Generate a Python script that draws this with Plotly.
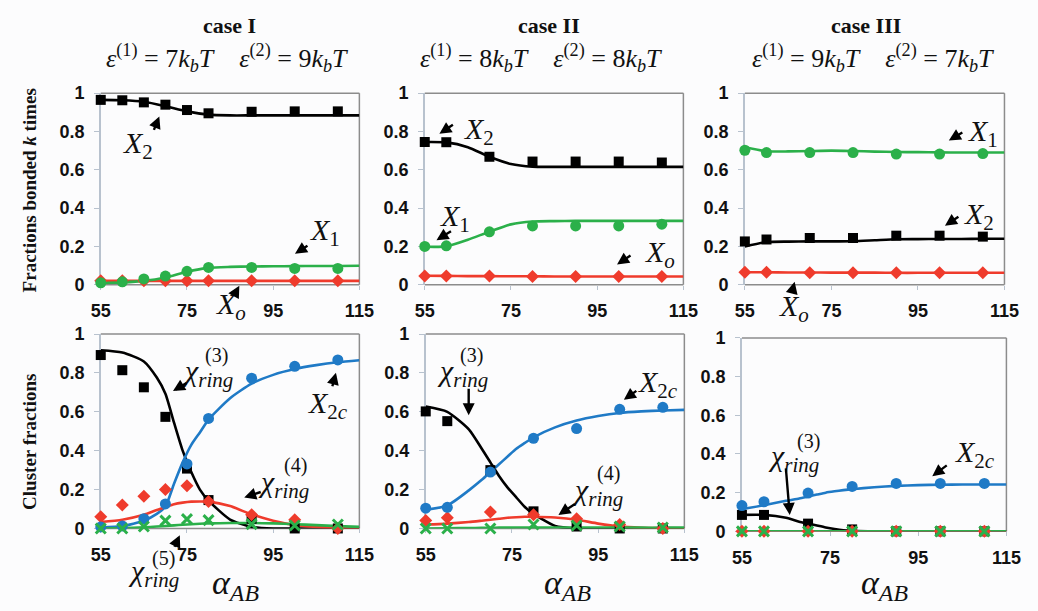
import plotly.graph_objects as go

W, H = 1038, 611

# ---------------- data ----------------
x_sim9 = [55, 60, 65, 70, 75, 80, 90, 100, 110]
x_sim7 = [55, 60, 70, 80, 90, 100, 110]
x_th_top = [55, 60, 65, 70, 75, 80, 85, 90, 95, 100, 105, 110, 115]
x_th_bot = [55, 60, 65, 68, 70, 72, 74, 76, 78, 80, 85, 90, 95, 100, 105, 110, 115]

# Case I (top): fractions bonded k times
c1_X2_sim = [0.965, 0.963, 0.952, 0.94, 0.912, 0.895, 0.903, 0.905, 0.905]
c1_X1_sim = [0.01, 0.015, 0.03, 0.045, 0.07, 0.09, 0.09, 0.085, 0.085]
c1_Xo_sim = [0.02, 0.02, 0.02, 0.02, 0.02, 0.02, 0.02, 0.02, 0.02]
c1_X2_th = [0.965, 0.963, 0.955, 0.932, 0.905, 0.888, 0.884, 0.884, 0.884, 0.884, 0.884, 0.884, 0.884]
c1_X1_th = [0.008, 0.012, 0.02, 0.038, 0.068, 0.088, 0.093, 0.095, 0.096, 0.097, 0.098, 0.098, 0.099]
c1_Xo_th = [0.02, 0.02, 0.02, 0.02, 0.02, 0.02, 0.02, 0.02, 0.02, 0.02, 0.02, 0.02, 0.02]

# Case II (top)
c2_X2_sim = [0.745, 0.744, 0.668, 0.643, 0.643, 0.643, 0.638]
c2_X1_sim = [0.2, 0.203, 0.276, 0.307, 0.307, 0.307, 0.316]
c2_Xo_sim = [0.045, 0.045, 0.045, 0.043, 0.043, 0.043, 0.043]
c2_X2_th = [0.745, 0.743, 0.718, 0.668, 0.63, 0.616, 0.615, 0.615, 0.615, 0.615, 0.615, 0.615, 0.615]
c2_X1_th = [0.198, 0.2, 0.235, 0.277, 0.315, 0.33, 0.332, 0.333, 0.333, 0.333, 0.333, 0.333, 0.333]
c2_Xo_th = [0.047, 0.046, 0.045, 0.045, 0.044, 0.044, 0.043, 0.043, 0.043, 0.043, 0.043, 0.043, 0.043]

# Case III (top)
c3_X1_sim = [0.702, 0.69, 0.69, 0.69, 0.682, 0.682, 0.685]
c3_X2_sim = [0.226, 0.236, 0.244, 0.244, 0.256, 0.256, 0.251]
c3_Xo_sim = [0.065, 0.065, 0.063, 0.063, 0.062, 0.062, 0.062]
c3_X1_th = [0.718, 0.697, 0.696, 0.698, 0.7, 0.698, 0.695, 0.693, 0.692, 0.691, 0.69, 0.69, 0.69]
c3_X2_th = [0.2, 0.222, 0.225, 0.226, 0.226, 0.227, 0.232, 0.237, 0.238, 0.239, 0.239, 0.24, 0.24]
c3_Xo_th = [0.065, 0.065, 0.064, 0.064, 0.063, 0.063, 0.063, 0.062, 0.062, 0.062, 0.062, 0.062, 0.062]

# Case I (bottom): cluster fractions
c1_ch3_sim = [0.892, 0.814, 0.726, 0.574, 0.308, 0.146, 0.05, 0.0, 0.0]
c1_X2c_sim = [0.008, 0.013, 0.05, 0.126, 0.332, 0.566, 0.773, 0.834, 0.867]
c1_ch4_sim = [0.06, 0.121, 0.166, 0.2, 0.22, 0.138, 0.071, 0.045, 0.0]
c1_ch5_sim = [0.0, 0.0, 0.01, 0.04, 0.048, 0.043, 0.022, 0.015, 0.02]
c1_ch3_th = [0.917, 0.905, 0.859, 0.776, 0.693, 0.544, 0.40, 0.29, 0.2, 0.143, 0.046, 0.008, 0.0, 0.0, 0.0, 0.0, 0.0]
c1_X2c_th = [0.005, 0.012, 0.04, 0.075, 0.113, 0.23, 0.34, 0.43, 0.494, 0.56, 0.67, 0.745, 0.79, 0.82, 0.84, 0.855, 0.865]
c1_ch4_th = [0.033, 0.045, 0.07, 0.095, 0.11, 0.125, 0.133, 0.138, 0.139, 0.138, 0.115, 0.072, 0.04, 0.018, 0.008, 0.003, 0.002]
c1_ch5_th = [0.0, 0.002, 0.006, 0.01, 0.013, 0.016, 0.019, 0.022, 0.024, 0.026, 0.028, 0.028, 0.026, 0.022, 0.017, 0.012, 0.008]

# Case II (bottom)
c2_ch3_sim = [0.602, 0.552, 0.3, 0.088, 0.01, 0.0, 0.0]
c2_X2c_sim = [0.104, 0.109, 0.29, 0.464, 0.514, 0.613, 0.623]
c2_ch4_sim = [0.041, 0.055, 0.085, 0.07, 0.05, 0.02, 0.0]
c2_ch5_sim = [0.0, 0.0, 0.0, 0.02, 0.015, 0.01, 0.005]
c2_ch3_th = [0.627, 0.6, 0.51, 0.41, 0.34, 0.27, 0.21, 0.16, 0.11, 0.075, 0.013, 0.0, 0.0, 0.0, 0.0, 0.0, 0.0]
c2_X2c_th = [0.096, 0.118, 0.196, 0.25, 0.29, 0.33, 0.37, 0.41, 0.44, 0.469, 0.52, 0.555, 0.578, 0.594, 0.602, 0.607, 0.61]
c2_ch4_th = [0.02, 0.025, 0.033, 0.04, 0.045, 0.05, 0.055, 0.058, 0.06, 0.06, 0.056, 0.045, 0.025, 0.01, 0.004, 0.002, 0.001]
c2_ch5_th = [0.0, 0.001, 0.002, 0.003, 0.003, 0.004, 0.004, 0.005, 0.005, 0.005, 0.005, 0.005, 0.005, 0.005, 0.004, 0.004, 0.004]

# Case III (bottom)
c3_ch3_sim = [0.085, 0.085, 0.04, 0.01, 0.0, 0.0, 0.0]
c3_X2c_sim = [0.133, 0.153, 0.198, 0.232, 0.248, 0.248, 0.248]
c3_ch4_sim = [0.0, 0.0, 0.0, 0.0, 0.0, 0.0, 0.0]
c3_ch5_sim = [0.0, 0.0, 0.0, 0.0, 0.0, 0.0, 0.0]
c3_ch3_th = [0.085, 0.085, 0.07, 0.05, 0.04, 0.03, 0.02, 0.012, 0.006, 0.003, 0.0, 0.0, 0.0, 0.0, 0.0, 0.0, 0.0]
c3_X2c_th = [0.115, 0.135, 0.158, 0.17, 0.18, 0.19, 0.2, 0.207, 0.213, 0.218, 0.228, 0.235, 0.239, 0.241, 0.242, 0.242, 0.242]
c3_ch4_th = [0.0] * 17
c3_ch5_th = [0.0] * 17

x_ticks = [55, 75, 95, 115]
y_ticks = [0, 0.2, 0.4, 0.6, 0.8, 1]
y_tick_text = ["0", "0.2", "0.4", "0.6", "0.8", "1"]

case_titles = ["case I", "case II", "case III"]
eps_vals = [(7, 9), (8, 8), (9, 7)]

# ---------------- styles ----------------
BLACK = "#000000"
GREEN = "#2bb04a"
RED = "#ef3b2c"
BLUE = "#1f7ac6"
SERIF = "Liberation Serif"
SANS = "Liberation Sans"
BG = "#fcfcfd"

# panel boxes in pixels: (left, right, top, bottom)
boxes = [
    (93, 358, 86, 284), (425, 690, 86, 284), (753, 1019, 86, 284),
    (93, 358, 335, 536), (426, 691, 335, 536), (750, 1021, 339, 539),
]

fig = go.Figure()


def ax_id(i):
    return ("x" if i == 0 else f"x{i+1}", "y" if i == 0 else f"y{i+1}")


def add_line(i, x, y, color):
    xa, ya = ax_id(i)
    fig.add_trace(go.Scatter(x=x, y=y, mode="lines", xaxis=xa, yaxis=ya,
                             line=dict(color=color, width=2.6, shape="spline", smoothing=0.6),
                             cliponaxis=False, showlegend=False, hoverinfo="skip"))


def add_pts(i, x, y, color, symbol, size=10):
    xa, ya = ax_id(i)
    mk = dict(color=color, symbol=symbol, size=size)
    if symbol == "x-thin":
        mk["line"] = dict(color=color, width=3)
    fig.add_trace(go.Scatter(x=x, y=y, mode="markers", xaxis=xa, yaxis=ya, marker=mk,
                             cliponaxis=False, showlegend=False, hoverinfo="skip"))


# top panels
for i, (X2s, X1s, Xos, X2t, X1t, Xot, xs) in enumerate([
    (c1_X2_sim, c1_X1_sim, c1_Xo_sim, c1_X2_th, c1_X1_th, c1_Xo_th, x_sim9),
    (c2_X2_sim, c2_X1_sim, c2_Xo_sim, c2_X2_th, c2_X1_th, c2_Xo_th, x_sim7),
    (c3_X2_sim, c3_X1_sim, c3_Xo_sim, c3_X2_th, c3_X1_th, c3_Xo_th, x_sim7),
]):
    add_line(i, x_th_top, Xot, RED)
    add_line(i, x_th_top, X1t, GREEN)
    add_line(i, x_th_top, X2t, BLACK)
    add_pts(i, xs, Xos, RED, "diamond", 10)
    add_pts(i, xs, X1s, GREEN, "circle", 11)
    add_pts(i, xs, X2s, BLACK, "square", 10)

# bottom panels
for j, (c3s, x2cs, c4s, c5s, c3t, x2ct, c4t, c5t, xs) in enumerate([
    (c1_ch3_sim, c1_X2c_sim, c1_ch4_sim, c1_ch5_sim, c1_ch3_th, c1_X2c_th, c1_ch4_th, c1_ch5_th, x_sim9),
    (c2_ch3_sim, c2_X2c_sim, c2_ch4_sim, c2_ch5_sim, c2_ch3_th, c2_X2c_th, c2_ch4_th, c2_ch5_th, x_sim7),
    (c3_ch3_sim, c3_X2c_sim, c3_ch4_sim, c3_ch5_sim, c3_ch3_th, c3_X2c_th, c3_ch4_th, c3_ch5_th, x_sim7),
]):
    i = j + 3
    add_line(i, x_th_bot, c3t, BLACK)
    add_line(i, x_th_bot, x2ct, BLUE)
    add_line(i, x_th_bot, c4t, RED)
    add_line(i, x_th_bot, c5t, GREEN)
    add_pts(i, xs, c3s, BLACK, "square", 10)
    add_pts(i, xs, c4s, RED, "diamond", 10)
    add_pts(i, xs, x2cs, BLUE, "circle", 11)
    add_pts(i, xs, c5s, GREEN, "x-thin", 10)

layout = dict(width=W, height=H, margin=dict(l=0, r=0, t=0, b=0),
              paper_bgcolor=BG, plot_bgcolor=BG, showlegend=False)

shapes = []
for i, (L, R, T, B) in enumerate(boxes):
    xa, ya = ax_id(i)
    xkey = "xaxis" if i == 0 else f"xaxis{i+1}"
    ykey = "yaxis" if i == 0 else f"yaxis{i+1}"
    layout[xkey] = dict(domain=[L / W, R / W], range=[55, 115], anchor=ya,
                        tickvals=x_ticks, showgrid=False, zeroline=False, showline=False,
                        ticks="outside", ticklen=4, tickcolor="#b8c2ce",
                        ticklabelstandoff=6, layer="below traces",
                        tickfont=dict(family=SANS, size=18, color="#111", weight="bold"))
    layout[ykey] = dict(domain=[1 - B / H, 1 - T / H], range=[0, 1], anchor=xa,
                        tickvals=y_ticks, ticktext=y_tick_text, showgrid=False, zeroline=False,
                        showline=True, linecolor="#b8c2ce", linewidth=1.5,
                        ticks="outside", ticklen=5, tickcolor="#b8c2ce", ticklabelstandoff=6,
                        layer="below traces",
                        tickfont=dict(family=SANS, size=18, color="#111", weight="bold"))
    xd = f"{xa} domain"
    yd = f"{ya} domain"
    for (x0, y0, x1, y1) in [(0, 1, 1, 1), (1, 0, 1, 1), (0, 0, 1, 0)]:
        shapes.append(dict(type="line", xref=xd, yref=yd, x0=x0, y0=y0, x1=x1, y1=y1,
                           line=dict(color="#8c8c8c", width=1.5), layer="below"))
layout["shapes"] = shapes

ann = []


def P(px, py):
    return px / W, 1 - py / H


def text(t, cx, cy, size=30, bold=False, angle=0, family=SERIF, color="#111"):
    x, y = P(cx, cy)
    f = dict(family=family, size=size, color=color)
    if bold:
        f["weight"] = "bold"
    ann.append(dict(text=t, x=x, y=y, xref="paper", yref="paper", showarrow=False,
                    xanchor="center", yanchor="middle", font=f, textangle=angle))


def arrow(tx, ty, hx, hy):
    x, y = P(hx, hy)
    ann.append(dict(text="", x=x, y=y, xref="paper", yref="paper", ax=tx - hx, ay=ty - hy,
                    axref="pixel", ayref="pixel", showarrow=True, arrowhead=2, arrowsize=1,
                    arrowwidth=2.4, arrowcolor="#000", standoff=0, startstandoff=0))


def chi(sup, cx, cy, sx, sy):
    text("<i>χ</i><sub><i>ring</i></sub>", cx, cy, 30)
    text(sup, sx, sy, 20)


# titles
title_cx = [225, 552, 877]
eps_cx = [222, 544, 884]
for k in range(3):
    text(case_titles[k], title_cx[k], 16, 22, bold=True)
    e1, e2 = eps_vals[k]
    s = (f"<i>ε</i><sup>(1)</sup> = {e1}<i>k</i><sub><i>b</i></sub><i>T</i>"
         f"&nbsp;&nbsp;&nbsp;&nbsp;<i>ε</i><sup>(2)</sup> = {e2}<i>k</i><sub><i>b</i></sub><i>T</i>")
    text(s, eps_cx[k], 50, 26)

# y-axis titles
text("Fractions bonded <i>k</i> times", 20, 187, 19, bold=True, angle=-90)
text("Cluster fractions", 20, 447, 19, bold=True, angle=-90)

# x-axis titles
for cx in [231, 571, 896]:
    text("<i>α</i><sub><i>AB</i></sub>", cx, 594, 34)

# top case I
text("<i>X</i><sub>2</sub>", 131, 140)
arrow(147, 125, 153, 110)
text("<i>X</i><sub>1</sub>", 323, 229)
arrow(306, 243, 292, 252)
text("<i>X</i><sub><i>o</i></sub>", 226, 306)
arrow(229, 296, 235, 285)
# top case II
text("<i>X</i><sub>2</sub>", 481, 125)
arrow(455, 118, 440, 128)
text("<i>X</i><sub>1</sub>", 456, 215)
arrow(453, 228, 437, 238)
text("<i>X</i><sub><i>o</i></sub>", 666, 252)
arrow(637, 253, 622, 263)
# top case III
text("<i>X</i><sub>1</sub>", 997, 127)
arrow(977, 126, 962, 135)
text("<i>X</i><sub>2</sub>", 993, 213)
arrow(973, 213, 958, 223)
text("<i>X</i><sub><i>o</i></sub>", 803, 308)
arrow(801, 293, 804, 281)

# bottom case I
chi("(3)", 202, 375, 212, 357)
arrow(182, 385, 167, 394)
text("<i>X</i><sub>2<i>c</i></sub>", 326, 408)
arrow(330, 390, 334, 375)
chi("(4)", 280, 490, 293, 471)
arrow(258, 498, 240, 504)
chi("(5)", 147, 582, 157, 567)
arrow(168, 556, 174, 543)
# bottom case II
chi("(3)", 464, 375, 473, 357)
arrow(470, 391, 470, 419)
text("<i>X</i><sub>2<i>c</i></sub>", 664, 387)
arrow(643, 393, 629, 403)
chi("(4)", 602, 498, 613, 479)
arrow(580, 510, 562, 522)
# bottom case III
chi("(3)", 803, 463, 818, 446)
arrow(795, 474, 799, 522)
text("<i>X</i><sub>2<i>c</i></sub>", 989, 459)
arrow(961, 470, 945, 482)

layout["annotations"] = ann
fig.update_layout(**layout)
fig.write_html("out.html")
